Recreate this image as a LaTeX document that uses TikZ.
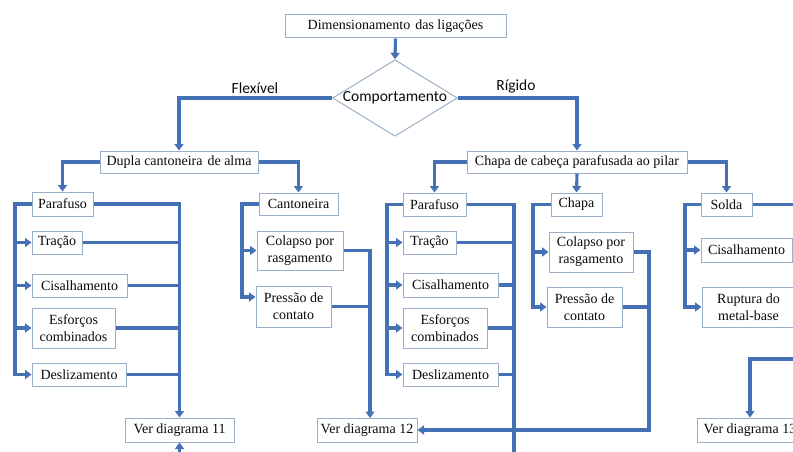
\documentclass[tikz,border=0pt]{standalone}
\usepackage{fontspec}
\setmainfont{Liberation Serif}
\newfontfamily\boxfont{Liberation Serif}
\newfontfamily\labelfont{Carlito}
\usetikzlibrary{arrows.meta,shapes.geometric}

\definecolor{flow}{RGB}{68,112,180}
\definecolor{frame}{RGB}{155,174,200}
\definecolor{ink}{RGB}{10,10,10}

\tikzset{
  box/.style={draw=frame, line width=1pt, fill=white, inner sep=0pt,
    align=center, text=ink, font=\boxfont\fontsize{14}{17}\selectfont},
  link/.style={draw=flow, line width=3.1pt},
  arr/.style={link, -{Triangle[length=6.5pt,width=9pt]}},
  tag/.style={font=\labelfont\fontsize{15.5}{18}\selectfont, text=ink},
}

\begin{document}
\begin{tikzpicture}[x=1pt, y=-1pt]
\useasboundingbox (0,0) rectangle (793,452);
\clip (0,0) rectangle (793,452);

% ---------- upper part ----------
\node[box, minimum width=221, minimum height=23] (top) at (395.5,26.5) {Dimensionamento\hspace{1.5pt} das ligações};
\node[draw=frame, line width=1pt, shape=diamond, shape aspect=1.63,
      minimum width=124, minimum height=76, inner sep=0pt, text=ink,
      font=\labelfont\fontsize{15.5}{18}\selectfont] (comp) at (395,98) {Comportamento};
\node[tag] (flex) at (255,88) {Flexível};
\node[tag] (rig) at (516,86) {Rígido};

\node[box, minimum width=158, minimum height=22] (dupla) at (179,162) {Dupla cantoneira\hspace{1.5pt} de alma};
\node[box, minimum width=220, minimum height=22] (cabeca) at (577,162) {Chapa de cabeça parafusada ao pilar};

% ---------- bolts of the double angle ----------
\node[box, minimum width=61, minimum height=24] (paraf1) at (62.5,204) {Parafuso};
\node[box, minimum width=50, minimum height=23] (tracao1) at (57,242.5) {Tração};
\node[box, minimum width=95, minimum height=23] (cis1) at (79.5,285.5) {Cisalhamento};
\node[box, minimum width=83, minimum height=40] (esf1) at (73.5,328) {Esforços\\combinados};
\node[box, minimum width=94, minimum height=23] (desl1) at (79,374.5) {Deslizamento};
\node[box, minimum width=109, minimum height=24] (ver11) at (179.5,430) {Ver diagrama 11};

% ---------- angle ----------
\node[box, minimum width=79, minimum height=22] (cant) at (298.5,204) {Cantoneira};
\node[box, minimum width=86, minimum height=39] (colapso1) at (300,250.5) {Colapso por\\rasgamento};
\node[box, minimum width=75, minimum height=41] (pressao1) at (293.5,306.5) {Pressão de\\contato};
\node[box, minimum width=100, minimum height=24] (ver12) at (367,430) {Ver diagrama 12};

% ---------- bolts of the end plate ----------
\node[box, minimum width=63, minimum height=23] (paraf2) at (434.5,204.5) {Parafuso};
\node[box, minimum width=53, minimum height=23] (tracao2) at (429.5,242.5) {Tração};
\node[box, minimum width=95, minimum height=24] (cis2) at (450.5,285) {Cisalhamento};
\node[box, minimum width=84, minimum height=40] (esf2) at (445,328) {Esforços\\combinados};
\node[box, minimum width=95, minimum height=23] (desl2) at (450.5,374.5) {Deslizamento};

% ---------- plate ----------
\node[box, minimum width=51, minimum height=23] (chapa) at (576.5,204.5) {Chapa};
\node[box, minimum width=84, minimum height=40] (colapso2) at (591,252) {Colapso por\\rasgamento};
\node[box, minimum width=75, minimum height=40] (pressao2) at (584.5,307) {Pressão de\\contato};

% ---------- weld ----------
\node[box, minimum width=51, minimum height=23] (solda) at (726.5,204.5) {Solda};
\node[box, minimum width=91, minimum height=24] (cis3) at (746.5,250) {Cisalhamento};
\node[box, minimum width=93, minimum height=40] (rupt) at (748.5,307) {Ruptura do\\metal-base};
\node[box, minimum width=106, minimum height=24] (ver13) at (750,430) {Ver diagrama 13};

% ---------- rail positions ----------
\coordinate (L1) at (15,0);
\coordinate (L2) at (242,0);
\coordinate (R2) at (370,418);
\coordinate (L3) at (387,0);
\coordinate (R3) at (514,470);
\coordinate (L4) at (533,0);
\coordinate (R4) at (649,0);
\coordinate (L5) at (685,0);
\coordinate (in11) at (179.5,470);
\coordinate (E1) at (812,204.5);
\coordinate (E2) at (812,359);

% ---------- connectors ----------
\draw[arr] (top.south) -- (comp.north);
\draw[arr] (comp.west) -| (dupla.north);
\draw[arr] (comp.east) -| (cabeca.north);
\draw[arr] (dupla.west) -| (paraf1.north);
\draw[arr] (dupla.east) -| (cant.north);
\draw[arr] (cabeca.west) -| (paraf2.north);
\draw[arr] (cabeca.south) -- (chapa.north);
\draw[arr] (cabeca.east) -| (solda.north);

% bolts, double angle
\draw[arr] (paraf1.west) -- (paraf1.west -| L1) |- (desl1.west);
\foreach \n in {tracao1,cis1,esf1} \draw[arr] (\n.west -| L1) -- (\n.west);
\draw[arr] (paraf1.east) -| (ver11.north);
\foreach \n in {tracao1,cis1,esf1,desl1} \draw[link] (\n.east) -- (\n.east -| ver11.north);
\draw[arr] (in11) -- (ver11.south);

% angle
\draw[arr] (cant.west) -- (cant.west -| L2) |- ([yshift=9.5pt]pressao1.west);
\draw[arr] (colapso1.west -| L2) -- (colapso1.west);
\draw[arr] (colapso1.east) -| (R2);
\draw[link] (pressao1.east) -- (pressao1.east -| R2);

% bolts, end plate
\draw[arr] (paraf2.west) -- (paraf2.west -| L3) |- (desl2.west);
\foreach \n in {tracao2,cis2,esf2} \draw[arr] (\n.west -| L3) -- (\n.west);
\draw[link] (paraf2.east) -| (R3);
\foreach \n in {tracao2,cis2,esf2,desl2} \draw[link] (\n.east) -- (\n.east -| R3);

% plate
\draw[arr] (chapa.west) -- (chapa.west -| L4) |- (pressao2.west);
\draw[arr] (colapso2.west -| L4) -- (colapso2.west);
\draw[arr] (colapso2.east) -- (colapso2.east -| R4) |- (ver12.east);
\draw[link] (pressao2.east) -- (pressao2.east -| R4);

% weld
\draw[arr] (solda.west) -- (solda.west -| L5) |- (rupt.west);
\draw[arr] (cis3.west -| L5) -- (cis3.west);
\draw[link] (solda.east) -- (E1);
\draw[arr] (E2) -| (ver13.north);
\end{tikzpicture}
\end{document}
